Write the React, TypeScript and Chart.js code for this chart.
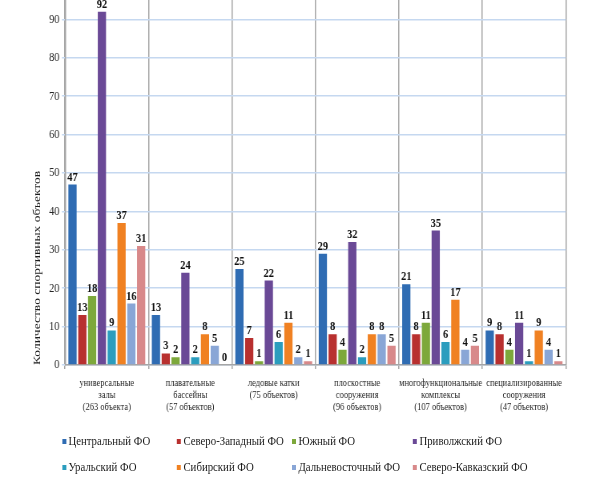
import { Chart, registerables } from 'chart.js';
Chart.register(...registerables);
import React, { useEffect, useRef } from 'react';

// categories (multi-line tick labels)
const categories: string[][] = [
    ['универсальные', 'залы', '(263 объекта)'],
    ['плавательные', 'бассейны', '(57 объектов)'],
    ['ледовые катки', '(75 объектов)'],
    ['плоскостные', 'сооружения', '(96 объектов)'],
    ['многофункциональные', 'комплексы', '(107 объектов)'],
    ['специализированные', 'сооружения', '(47 объектов)'],
];

const districts = [
    'Центральный ФО',
    'Северо-Западный ФО',
    'Южный ФО',
    'Приволжский ФО',
    'Уральский ФО',
    'Сибирский ФО',
    'Дальневосточный ФО',
    'Северо-Кавказский ФО',
];

const central = [47, 13, 25, 29, 21, 9];
const northWest = [13, 3, 7, 8, 8, 8];
const south = [18, 2, 1, 4, 11, 4];
const volga = [92, 24, 22, 32, 35, 11];
const ural = [9, 2, 6, 2, 6, 1];
const siberia = [37, 8, 11, 8, 17, 9];
const farEast = [16, 5, 2, 8, 4, 4];
const northCaucasus = [31, 0, 1, 5, 5, 1];

const series = [central, northWest, south, volga, ural, siberia, farEast, northCaucasus];
const colors = ['#2F6CB3', '#B8302F', '#7DA83B', '#6A4996', '#2B9DBE', '#F08122', '#89A6D6', '#D8898A'];

const yTicks = [0, 10, 20, 30, 40, 50, 60, 70, 80, 90, 100];

const SERIF = '"Liberation Serif", "Times New Roman", serif';

// the original picture is squeezed horizontally; reproduce it with a scaleX
const SQUEEZE = 0.8;
const W = 611 / SQUEEZE;

const legendCols = [62, 177, 292, 413];
const legendRows = [441, 467];

const valueLabels = {
    id: 'valueLabels',
    afterDatasetsDraw(chart: any) {
        const ctx = chart.ctx;
        ctx.save();
        ctx.font = `bold 13px ${SERIF}`;
        ctx.fillStyle = '#111111';
        ctx.textAlign = 'center';
        ctx.textBaseline = 'alphabetic';
        chart.data.datasets.forEach((ds: any, i: number) => {
            const meta = chart.getDatasetMeta(i);
            meta.data.forEach((bar: any, j: number) => {
                ctx.fillText(String(ds.data[j]), bar.x, bar.y - 4);
            });
        });
        ctx.restore();
    },
};

const App: React.FC = () => {
    const ref = useRef<HTMLCanvasElement>(null);

    useEffect(() => {
        if (!ref.current) return;
        const chart = new Chart(ref.current, {
            type: 'bar',
            data: {
                labels: categories,
                datasets: series.map((data, i) => ({
                    label: districts[i],
                    data,
                    backgroundColor: colors[i],
                    borderWidth: 0,
                    categoryPercentage: 0.94,
                    barPercentage: 0.84,
                })),
            },
            options: {
                responsive: true,
                maintainAspectRatio: false,
                animation: false,
                layout: { padding: { top: 11, bottom: 5, left: 0, right: 46 / SQUEEZE } },
                plugins: {
                    legend: { display: false },
                    tooltip: { enabled: false },
                },
                scales: {
                    x: {
                        afterFit: (s: any) => { s.height = 60; },
                        grid: { color: '#A6A6A6', lineWidth: 1.5, offset: true, tickLength: 4 },
                        border: { color: '#A6A6A6', width: 1.5 },
                        ticks: {
                            autoSkip: false,
                            maxRotation: 0,
                            minRotation: 0,
                            padding: 8,
                            color: '#262626',
                            font: { family: SERIF, size: 10.5, lineHeight: 1.15 },
                        },
                    },
                    y: {
                        min: 0,
                        max: 100,
                        afterFit: (s: any) => { s.width = 65 / SQUEEZE; },
                        afterBuildTicks: (s: any) => { s.ticks = yTicks.map((v) => ({ value: v })); },
                        grid: { color: '#C5D8F0', lineWidth: 1.5, tickLength: 4 },
                        border: { color: '#A6A6A6', width: 1.5 },
                        ticks: {
                            padding: 3,
                            color: '#262626',
                            font: { family: SERIF, size: 13 },
                        },
                        title: {
                            display: true,
                            text: 'Количество спортивных объектов',
                            align: 'start',
                            color: '#1a1a1a',
                            padding: { top: 37 / SQUEEZE - 8, bottom: 0 },
                            font: { family: SERIF, size: 13.5, lineHeight: 1.2 },
                        },
                    },
                },
            },
            plugins: [valueLabels],
        });
        return () => {
            chart.destroy();
        };
    }, []);

    return (
        <div style={{ position: 'fixed', left: 0, top: 0, width: 611, height: 482, overflow: 'hidden', background: '#fff' }}>
            <div
                style={{
                    position: 'absolute',
                    left: 0,
                    top: 0,
                    width: W,
                    height: 482,
                    transform: `scaleX(${SQUEEZE})`,
                    transformOrigin: '0 0',
                }}
            >
                <div style={{ position: 'absolute', left: 0, top: -30, width: W, height: 460 }}>
                    <canvas ref={ref}></canvas>
                </div>
                {districts.map((name, i) => (
                    <div
                        key={name}
                        style={{
                            position: 'absolute',
                            left: legendCols[i % 4] / SQUEEZE,
                            top: legendRows[Math.floor(i / 4)] - 8,
                            height: 16,
                            display: 'flex',
                            alignItems: 'center',
                            whiteSpace: 'nowrap',
                            fontFamily: SERIF,
                            fontSize: 13.5,
                            color: '#1a1a1a',
                        }}
                    >
                        <span style={{ display: 'inline-block', width: 5, height: 5, background: colors[i], marginRight: 3 }}></span>
                        {name}
                    </div>
                ))}
            </div>
        </div>
    );
};

export default App;
